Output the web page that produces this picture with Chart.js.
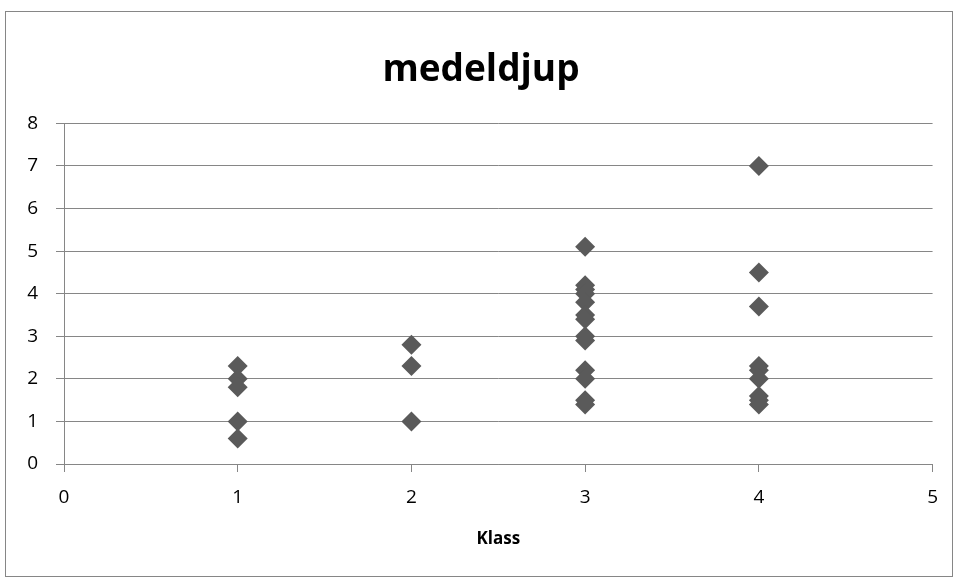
<!DOCTYPE html>
<html>
<head>
<meta charset="utf-8">
<script src="https://cdn.jsdelivr.net/npm/chart.js@4"></script>
<style>
  body { margin: 0; background: #fff; }
  #wrap { position: absolute; left: 5px; top: 11px; width: 946px; height: 564px; border: 1px solid #868686; }
</style>
</head>
<body>
<div id="wrap"><canvas id="scatterChart" width="946" height="564"></canvas></div>
<script>
const chartTitle = 'medeldjup';
const xTitle = 'Klass';
const klass1 = [2.3, 2.0, 1.8, 1.0, 0.6];
const klass2 = [2.8, 2.3, 1.0];
const klass3 = [5.1, 4.2, 4.1, 4.0, 3.8, 3.5, 3.4, 3.0, 2.9, 2.2, 2.0, 1.5, 1.4];
const klass4 = [7.0, 4.5, 3.7, 2.3, 2.2, 2.0, 1.6, 1.5, 1.4];

const points = [];
[klass1, klass2, klass3, klass4].forEach((vals, i) => {
  vals.forEach(v => points.push({ x: i + 1, y: v }));
});

const gridColor = '#868686';
const font = 'Open Sans';

var scatterChart = new Chart(
  document.getElementById('scatterChart'),
  {
    type: 'scatter',
    data: {
      datasets: [{
        label: chartTitle,
        data: points,
        pointStyle: 'rectRot',
        pointRadius: 10,
        pointHoverRadius: 10,
        backgroundColor: '#5a5a5a',
        borderColor: '#5a5a5a',
        borderWidth: 0
      }]
    },
    options: {
      animation: false,
      responsive: false,
      // left padding nudges the title right, y axis width makes up for it
      layout: { padding: { left: 20, right: 16, bottom: 0 } },
      plugins: {
        legend: { display: false },
        tooltip: { enabled: false },
        title: {
          display: true,
          text: chartTitle,
          color: '#000',
          font: { family: font, size: 37, weight: 'bold' },
          padding: { top: 36, bottom: 31 }
        }
      },
      scales: {
        x: {
          type: 'linear',
          min: 0,
          max: 5,
          ticks: { stepSize: 1, color: '#000', font: { family: font, size: 19 }, padding: 14 },
          grid: { drawOnChartArea: false, color: gridColor, tickLength: 8 },
          border: { color: gridColor },
          title: {
            display: true,
            text: xTitle,
            color: '#000',
            font: { family: font, size: 17, weight: 'bold' },
            padding: { top: 12, bottom: 27 }
          },
          afterFit: s => { s.height = 112; }
        },
        y: {
          min: 0,
          max: 8,
          ticks: { stepSize: 1, color: '#000', font: { family: font, size: 19 }, padding: 18 },
          grid: { color: gridColor, tickLength: 8 },
          border: { color: gridColor },
          afterFit: s => { s.width = 38; }
        }
      }
    }
  }
);
</script>
</body>
</html>
